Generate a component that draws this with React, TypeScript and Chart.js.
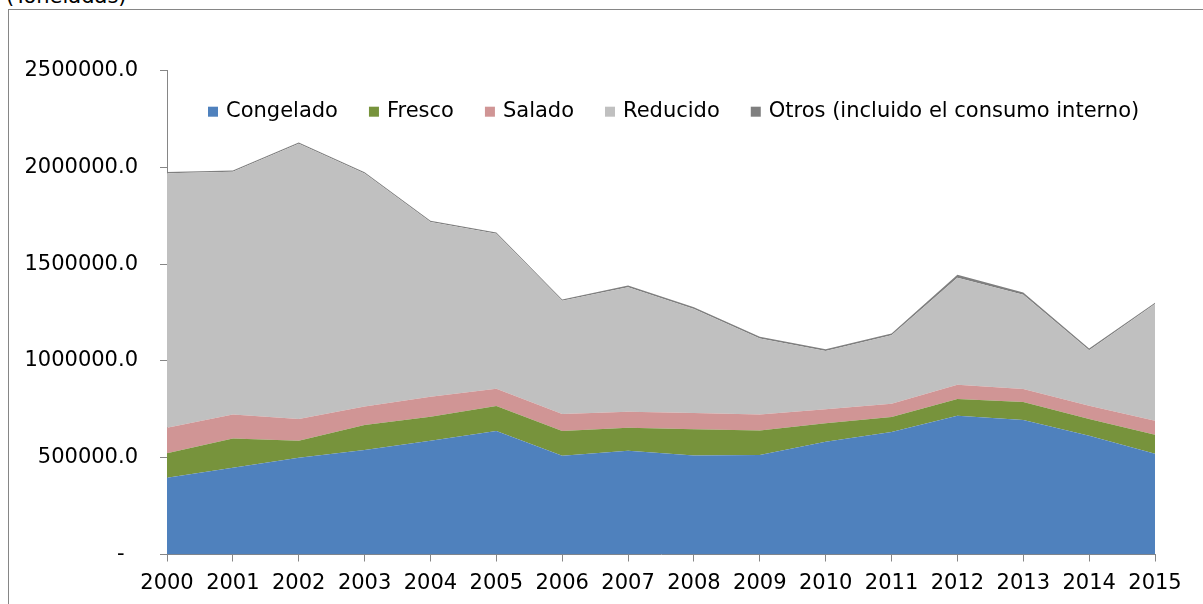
import React, { useEffect, useRef } from "react";
import { Chart, registerables } from "chart.js";

Chart.register(...registerables);

const years = ["2000", "2001", "2002", "2003", "2004", "2005", "2006", "2007", "2008", "2009", "2010", "2011", "2012", "2013", "2014", "2015"];
const congelado = [397000, 448000, 500000, 540000, 588000, 638000, 510000, 536000, 512000, 514000, 583000, 633000, 717000, 695000, 614000, 521000];
const fresco = [126000, 152000, 88000, 129000, 124000, 129000, 128000, 119000, 135000, 127000, 95000, 77000, 86000, 93000, 86000, 98000];
const salado = [132000, 124000, 112000, 96000, 103000, 89000, 88000, 83000, 84000, 83000, 72000, 69000, 74000, 67000, 69000, 72000];
const reducido = [1315000, 1254000, 1423000, 1204000, 903000, 801000, 585000, 643000, 537000, 392000, 302000, 354000, 553000, 487000, 287000, 603000];
const otros = [6000, 6000, 6000, 6000, 6000, 7000, 7000, 9000, 9000, 9000, 9000, 9000, 15000, 12000, 9000, 7000];

const seriesNames = ["Congelado", "Fresco", "Salado", "Reducido", "Otros (incluido el consumo interno)"];
const seriesColors = ["#4F81BD", "#77933C", "#D09595", "#C0C0C0", "#7F7F7F"];
const yMax = 2500000;
const yStep = 500000;
const unitLabel = "(Toneladas)";

const FONT = "'DejaVu Sans', Verdana, sans-serif";
const AXIS = "#868686";

// Legend drawn inside the plot area, near its top (as in the reference)
const insideLegend = {
  id: "insideLegend",
  afterDraw(chart: any) {
    const ctx = chart.ctx;
    const area = chart.chartArea;
    ctx.save();
    ctx.font = `21px ${FONT}`;
    ctx.textBaseline = "middle";
    ctx.textAlign = "left";
    let x = area.left + 41;
    const y = area.top + 41;
    chart.data.datasets.forEach((ds: any) => {
      ctx.fillStyle = ds.backgroundColor;
      ctx.fillRect(x, y - 5, 10, 10);
      ctx.fillStyle = "#000";
      ctx.fillText(ds.label, x + 18, y);
      x += 18 + ctx.measureText(ds.label).width + 31;
    });
    ctx.restore();
  },
};

export default function App() {
  const ref = useRef<HTMLCanvasElement | null>(null);

  useEffect(() => {
    if (!ref.current) return;
    const values = [congelado, fresco, salado, reducido, otros];
    const chart = new Chart(ref.current, {
      type: "line",
      data: {
        labels: years,
        datasets: values.map((v, i) => ({
          label: seriesNames[i],
          data: v,
          backgroundColor: seriesColors[i],
          borderColor: "rgba(0,0,0,0)",
          borderWidth: 0,
          pointRadius: 0,
          pointHoverRadius: 0,
          tension: 0,
          fill: i === 0 ? "origin" : "-1",
        })),
      },
      plugins: [insideLegend],
      options: {
        responsive: false,
        animation: false,
        devicePixelRatio: 1,
        layout: { padding: { top: 70.7, right: 48, left: 0, bottom: 0 } },
        plugins: {
          tooltip: { enabled: false },
          legend: { display: false },
        },
        scales: {
          x: {
            offset: false,
            grid: { display: true, drawOnChartArea: false, drawTicks: true, tickLength: 7, color: AXIS },
            border: { display: true, color: AXIS, width: 1 },
            ticks: { color: "#000", font: { family: FONT, size: 21 }, padding: 9, maxRotation: 0, autoSkip: false },
            afterFit: (s: any) => { s.height = 49.5; },
          },
          y: {
            stacked: true,
            min: 0,
            max: yMax,
            grid: { display: true, drawOnChartArea: false, drawTicks: true, tickLength: 7, color: AXIS },
            border: { display: true, color: AXIS, width: 1 },
            ticks: {
              stepSize: yStep,
              color: "#000",
              font: { family: FONT, size: 21 },
              padding: 22,
              callback: (v: any) => (Number(v) === 0 ? "-  " : Number(v).toFixed(1)),
            },
            afterFit: (s: any) => { s.width = 167; },
          },
        },
      },
    });
    return () => chart.destroy();
  }, []);

  return (
    <div style={{ position: "absolute", left: 0, top: 0, width: 1203, height: 604, overflow: "hidden", background: "#fff" }}>
      <div style={{ position: "absolute", left: 8, top: 9, width: 1300, height: 700, border: `1px solid ${AXIS}`, boxSizing: "border-box" }} />
      <div style={{ position: "absolute", left: 6, top: -14, fontFamily: FONT, fontSize: 21, lineHeight: "21px", color: "#000", whiteSpace: "nowrap" }}>{unitLabel}</div>
      <canvas ref={ref} width={1203} height={604} style={{ position: "absolute", left: 0, top: 0, width: 1203, height: 604 }} />
    </div>
  );
}
